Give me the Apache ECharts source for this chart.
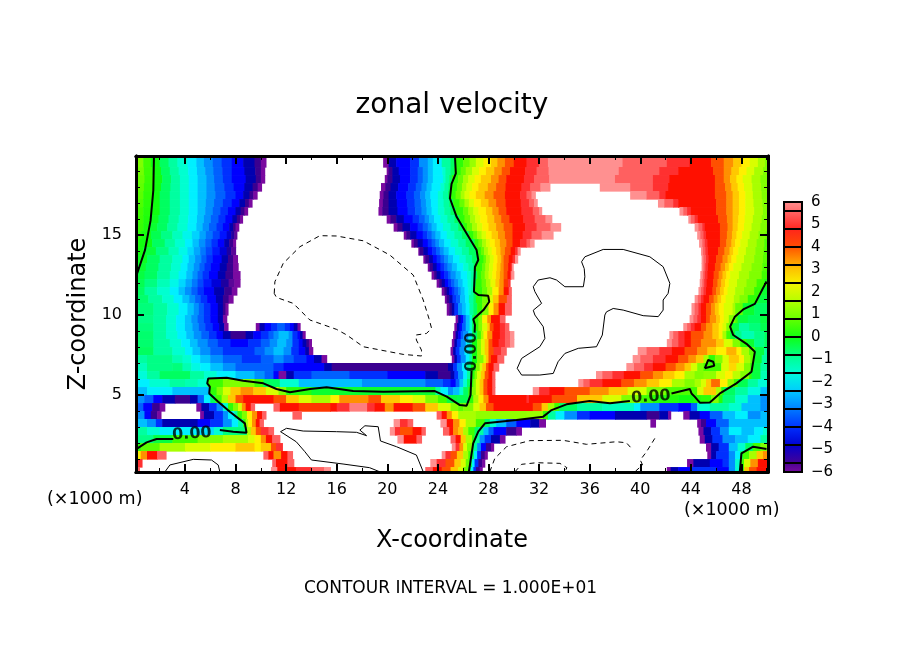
<!DOCTYPE html>
<html>
<head>
<meta charset="utf-8">
<script src="https://cdn.jsdelivr.net/npm/echarts@6/dist/echarts.min.js"></script>
<style>html,body{margin:0;padding:0;background:#fff}#chart{width:904px;height:654px}</style>
</head>
<body>
<div id="chart"></div>
<script>
var xTicks = [4, 8, 12, 16, 20, 24, 28, 32, 36, 40, 44, 48];
var xMinorTicks = [2, 6, 10, 14, 18, 22, 26, 30, 34, 38, 42, 46, 50];
var zTicks = [5, 10, 15];
var zMinorTicks = [1, 2, 3, 4, 6, 7, 8, 9, 11, 12, 13, 14, 16, 17, 18, 19];
var barTicks = [-6, -5, -4, -3, -2, -1, 0, 1, 2, 3, 4, 5, 6];
var barEdges = [-6, -5.6, -4.8, -4, -3.2, -2.4, -1.6, -0.8, 0, 0.8, 1.6, 2.4, 3.2, 4, 4.8, 5.6, 6];
var palette = ['#7a0aa0', '#3a0090', '#0000b0', '#0000ff', '#0030ff', '#0060ff', '#0090ff', '#00c0ff', '#00f0ff', '#00ffd0', '#00ffa0', '#00ff60', '#10ff10', '#40ff00', '#80ff00', '#a8ff00', '#d8ff00', '#fff000', '#ffc800', '#ff9000', '#ff5000', '#ff1000', '#ff3030', '#ff6060', '#ff9090'];

// z edges of the rows
var rowEdges = [19.94, 19.25, 18.75, 18.25, 17.75, 17.25, 16.75, 16.25, 15.75, 15.25, 14.75, 14.25, 13.75, 13.25, 12.75, 12.25, 11.75, 11.25, 10.75, 10, 9.5, 9, 8.5, 8, 7.5, 7, 6.5, 6, 5.5, 5, 4.5, 4, 3.5, 3, 2.5, 2, 1.5, 1, 0.5, 0.19];
// each row: x where a band starts, velocity of that band (null = off the scale, left white)
var rows = [
[0.1,1,.7,.5,1.3,0,2,-.5,2.7,-1,3.4,-1.5,4.2,-2,4.9,-2.5,5.5,-3,6.2,-3.5,6.9,-4,7.7,-4.5,8.6,-5,9.5,-5.5,10,-6,10.4,null,19.67,-6,20.1,-5,20.7,-4.5,21.8,-4,22.5,-3,23.2,-2.5,23.6,-2,24.3,-1,25,-.5,25.4,.3,26,.8,26.5,1.3,27,2,27.6,2.5,28.2,3,28.7,3.5,29.3,4,30,4.5,31,5,32,5.5,32.7,6,38.6,5.5,42.1,5,43.9,4.5,45.6,4,46.6,3.5,47.35,3,48,2.5,48.66,2,49.3,1.5,49.85,1],
[.1,.9,.75,.45,1.4,0,2.1,-.5,2.8,-1,3.5,-1.5,4.25,-2,4.95,-2.5,5.6,-3,6.25,-3.5,6.95,-4,7.7,-4.5,8.7,-5,9.55,-5.5,10,-6,10.3,null,19.95,-6,20.1,-5.5,20.4,-5,20.9,-4.5,21.8,-4,22.4,-3.5,22.8,-3,23.2,-2.5,23.6,-2,24.35,-1.5,24.6,-1,25,-.5,25.3,.3,25.8,.8,26.2,1.4,26.7,2,27.25,2.5,27.8,3,28.45,3.5,29.05,4,29.7,4.5,30.9,5,31.8,5.5,32.75,6,38.3,5.5,41.5,5,43,4.5,45.75,4,46.6,3.5,47.2,3,47.8,2.5,48.4,2,49,1.5,49.7,1],
[0.1,.8,.8,.4,1.5,0,2.2,-.5,2.9,-1,3.6,-1.5,4.3,-2,5,-2.5,5.7,-3,6.3,-3.5,7,-4,7.7,-4.5,8.8,-5,9.6,-5.5,10,-6,10.3,null,19.8,-6,20,-5.5,20.4,-5,21,-4.5,21.8,-4,22.4,-3.5,22.8,-3,23.2,-2.5,23.6,-2,24.4,-1.5,24.6,-1,24.9,-.5,25.1,.3,25.6,.8,26,1.5,26.4,2,26.9,2.5,27.4,3,28.2,3.5,28.8,4,29.4,4.5,30.8,5,31.6,5.5,32.8,6,38,5.5,41,5,42.3,4.5,45.9,4,46.6,3.5,47.1,3,47.6,2.5,48.1,2,48.8,1.5,49.5,1],
[.1,.75,.75,.35,1.45,0,2.1,-.5,2.85,-1,3.6,-1.5,4.3,-2,5,-2.5,5.7,-3,6.35,-3.5,7.1,-4,7.85,-4.5,8.7,-5,9.35,-5.5,9.75,-6,10.05,null,19.5,-6,19.85,-5.5,20.25,-5,20.85,-4.5,21.65,-4,22.25,-3.5,22.7,-3,23.1,-2.5,23.5,-2,24.2,-1.5,24.5,-1,24.85,-.5,25,.3,25.5,.8,25.9,1.5,26.25,2,26.7,2.5,27.2,3,27.95,3.5,28.6,4,29.35,4.5,30.6,5,31.3,5.5,32.1,6,32.85,null,36.8,6,39.2,5.5,41,5,42.2,4.5,45.9,4,46.7,3.5,47.2,3,47.7,2.5,48.2,2,48.85,1.5,49.55,1],
[0.1,.7,.7,.3,1.4,0,2,-.5,2.8,-1,3.6,-1.5,4.3,-2,5,-2.5,5.7,-3,6.4,-3.5,7.2,-4,8,-4.5,8.6,-5,9.1,-5.5,9.4,-6,9.7,null,19.4,-6,19.7,-5.5,20.1,-5,20.7,-4.5,21.5,-4,22.1,-3.5,22.6,-3,23,-2.5,23.4,-2,24,-1.5,24.4,-1,24.8,-.5,25,.3,25.4,.8,25.8,1.5,26.1,2,26.5,2.5,27,3,27.7,3.5,28.4,4,29.3,4.5,30.5,5,31,5.5,31.4,6,31.7,null,39.2,6,40.5,5.5,41.5,5,42,4.5,45.9,4,46.8,3.5,47.3,3,47.8,2.5,48.3,2,48.9,1.5,49.6,1],
[.1,.6,.7,.25,1.35,0,2,-.5,2.8,-1,3.6,-1.5,4.3,-2,5,-2.5,5.65,-3,6.3,-3.5,7,-4,7.7,-4.5,8.3,-5,8.75,-5.5,9.05,-6,9.3,null,19.35,-6,19.65,-5.5,20.1,-5,20.75,-4.5,21.55,-4,22.15,-3.5,22.65,-3,23.05,-2.5,23.45,-2,24,-1.5,24.45,-1,24.9,-.5,25.2,.3,25.7,.8,26.1,1.5,26.45,2,26.85,2.5,27.4,3,28,3.5,28.6,4,29.35,4.5,30.55,5,31.2,5.5,31.6,6,31.85,null,41.4,6,41.9,5.5,42.6,5,43,4.5,46,4,46.8,3.5,47.3,3,47.8,2.5,48.3,2,48.95,1.5,49.65,1],
[0.1,.5,.7,.2,1.3,0,2,-.5,2.8,-1,3.6,-1.5,4.3,-2,5,-2.5,5.6,-3,6.2,-3.5,6.8,-4,7.4,-4.5,8,-5,8.4,-5.5,8.7,-6,8.95,null,19.3,-6,19.6,-5.5,20.1,-5,20.8,-4.5,21.6,-4,22.2,-3.5,22.7,-3,23.1,-2.5,23.5,-2,24,-1.5,24.5,-1,25,-.5,25.4,.3,26,.8,26.4,1.5,26.8,2,27.2,2.5,27.8,3,28.3,3.5,28.8,4,29.4,4.5,30.6,5,31.5,5.5,32,6,32.2,null,43.1,6,43.4,5.5,43.7,5,44,4.5,46,4,46.8,3.5,47.3,3,47.8,2.5,48.3,2,49,1.5,49.7,1],
[.1,.45,.7,.15,1.25,-.1,1.9,-.5,2.7,-1,3.5,-1.5,4.25,-2,4.95,-2.5,5.5,-3,6.05,-3.5,6.65,-4,7.2,-4.5,7.75,-5,8.1,-5.5,8.35,-6,8.55,null,19.95,-6,20.25,-5.5,20.7,-5,21.3,-4.5,22,-4,22.5,-3.5,22.95,-3,23.3,-2.5,23.7,-2,24.2,-1.5,24.75,-1,25.3,-.5,25.7,.3,26.1,.8,26.55,1.5,26.95,2,27.35,2.5,27.9,3,28.45,3.5,29,4,29.65,4.5,30.75,5,31.65,5.5,32.5,6,33,null,43.8,6,44,5.5,44.3,5,44.55,4.5,46.15,4,46.85,3.5,47.3,3,47.75,2.5,48.25,2,48.9,1.5,49.6,1],
[0.1,.4,.7,.1,1.2,-.2,1.8,-.5,2.6,-1,3.4,-1.5,4.2,-2,4.9,-2.5,5.4,-3,5.9,-3.5,6.5,-4,7,-4.5,7.5,-5,7.8,-5.5,8,-6,8.25,null,20.5,-6,20.8,-5.5,21.2,-5,21.8,-4.5,22.4,-4,22.8,-3.5,23.2,-3,23.5,-2.5,23.9,-2,24.4,-1.5,25,-1,25.6,-.5,26,.3,26.3,.8,26.7,1.5,27.1,2,27.5,2.5,28,3,28.6,3.5,29.2,4,29.9,4.5,30.9,5,31.8,5.5,32.9,6,33.7,null,44.3,6,44.6,5.5,44.9,5,45.1,4.5,46.3,4,46.9,3.5,47.3,3,47.7,2.5,48.2,2,48.8,1.5,49.5,1],
[.1,.3,.55,.05,1.3,-.4,2.1,-.8,3,-1.3,3.8,-1.8,4.55,-2.3,5.15,-2.8,5.65,-3.3,6.2,-3.8,6.75,-4.3,7.3,-4.8,7.65,-5.3,7.9,-5.8,8.1,null,21.3,-6,21.5,-5.5,21.8,-5,22.3,-4.5,22.8,-4,23.15,-3.5,23.5,-3,23.8,-2.5,24.2,-2,24.7,-1.5,25.3,-1,25.9,-.5,26.45,.3,26.8,.8,27.1,1.5,27.45,2,27.8,2.5,28.25,3,28.75,3.5,29.3,4,29.9,4.5,30.7,5,31.4,5.5,32.2,6,33.1,null,44.5,6,44.75,5.5,45,5,45.2,4.5,46.3,4,46.85,3.5,47.25,3,47.6,2.5,48.05,2,48.65,1.5,49.35,1,49.9,.8],
[0.1,.2,.4,0,1.4,-.5,2.4,-1,3.2,-1.5,4,-2,4.6,-2.5,5.1,-3,5.6,-3.5,6.1,-4,6.6,-4.5,7.1,-5,7.5,-5.5,7.8,-6,8,null,21.9,-6,22.1,-5.5,22.4,-5,22.8,-4.5,23.2,-4,23.5,-3.5,23.8,-3,24.1,-2.5,24.5,-2,25,-1.5,25.6,-1,26.2,-.5,26.9,.3,27.2,.8,27.5,1.5,27.8,2,28.1,2.5,28.5,3,28.9,3.5,29.4,4,29.9,4.5,30.5,5,31,5.5,31.3,6,31.6,null,44.65,6,44.9,5.5,45.1,5,45.3,4.5,46.3,4,46.8,3.5,47.2,3,47.5,2.5,47.9,2,48.5,1.5,49.2,1,49.8,.6],
[.1,.05,.7,-.25,1.7,-.75,2.7,-1.25,3.5,-1.75,4.2,-2.25,4.7,-2.75,5.2,-3.25,5.65,-3.75,6.15,-4.25,6.75,-4.75,7.3,-5.25,7.65,-5.75,8,null,22.45,-6,22.55,-5.5,22.85,-5,23.2,-4.5,23.55,-4,23.85,-3.5,24.15,-3,24.45,-2.5,24.85,-2,25.35,-1.5,25.9,-1,26.45,-.5,27.05,.3,27.4,.8,27.65,1.5,27.95,2,28.25,2.5,28.6,3,28.95,3.5,29.3,4,29.75,4.5,30.1,5,30.3,6,30.5,null,44.8,6,44.95,5.5,45.15,5,45.35,4.5,46.15,4,46.65,3.5,47.05,3,47.35,2.5,47.75,2,48.35,1.5,49.1,1,49.75,.65],
[0.1,-.1,1,-.5,2,-1,3,-1.5,3.8,-2,4.3,-2.5,4.8,-3,5.3,-3.5,5.7,-4,6.2,-4.5,6.9,-5,7.4,-5.5,7.8,-6,8.15,null,22.85,-6,23,-5.5,23.3,-5,23.6,-4.5,23.9,-4,24.2,-3.5,24.5,-3,24.8,-2.5,25.2,-2,25.7,-1.5,26.2,-1,26.7,-.5,27.2,.3,27.6,.8,27.8,1.5,28.1,2,28.4,2.5,28.7,3,29,3.5,29.2,4,29.6,4.5,29.9,5,30.1,6,30.3,null,44.85,6,45,5.5,45.2,5,45.4,4.5,46,4,46.5,3.5,46.9,3,47.2,2.5,47.6,2,48.2,1.5,49,1,49.7,.7],
[.1,-.2,.9,-.5,1.9,-1,2.9,-1.5,3.65,-2,4.2,-2.5,4.7,-3,5.15,-3.5,5.55,-4,6.05,-4.5,6.75,-5,7.3,-5.5,7.8,-6,8.2,null,23.2,-6,23.35,-5.5,23.6,-5,23.9,-4.5,24.2,-4,24.5,-3.5,24.75,-3,25.1,-2.5,25.5,-2,26,-1.5,26.4,-1,26.8,-.5,26.95,.3,27.5,.8,27.75,1.5,28.05,2,28.35,2.5,28.65,3,28.95,3.5,29.2,4,29.55,4.5,29.75,5,29.85,6,29.95,null,44.85,6,45,5.5,45.15,5,45.35,4.5,45.9,4,46.35,3.5,46.7,3,47,2.5,47.35,2,48,1.5,48.8,1,49.65,.6],
[0.1,-.3,.8,-.5,1.8,-1,2.8,-1.5,3.5,-2,4.1,-2.5,4.6,-3,5,-3.5,5.4,-4,5.9,-4.5,6.6,-5,7.2,-5.5,7.8,-6,8.35,null,23.5,-6,23.7,-5.5,23.9,-5,24.2,-4.5,24.5,-4,24.8,-3.5,25,-3,25.4,-2.5,25.8,-2,26.3,-1.5,26.6,-1,26.9,-.5,27.1,.3,27.4,.8,27.7,1.5,28,2,28.3,2.5,28.6,3,28.9,3.5,29.2,4,29.5,4.5,29.7,5,29.8,6,30,null,44.75,6,44.95,5.5,45.1,5,45.3,4.5,45.8,4,46.2,3.5,46.5,3,46.8,2.5,47.1,2,47.8,1.5,48.6,1,49.6,.5],
[.1,-.4,.8,-.75,1.8,-1.25,2.8,-1.75,3.5,-2.25,4.05,-2.75,4.55,-3.25,5,-3.75,5.45,-4.25,6.1,-4.75,6.85,-5.25,7.45,-5.75,7.9,-6,8.35,null,23.9,-6,24.1,-5.5,24.3,-5,24.55,-4.5,24.8,-4,25.05,-3.5,25.3,-3,25.6,-2.5,25.95,-2,26.35,-1.5,26.6,-1,26.85,-.5,27,.3,27.45,.8,27.8,1.5,28.15,2.2,28.55,3,28.85,3.5,29.2,4.2,29.55,5,29.7,null,44.7,6,44.9,5.5,45.05,5,45.25,4.5,45.75,4,46.1,3.5,46.4,3,46.7,2.5,47,2,47.65,1.5,48.4,1,49.2,.5,49.8,.1],
[0.1,-.5,.8,-1,1.8,-1.5,2.8,-2,3.5,-2.5,4,-3,4.5,-3.5,5,-4,5.5,-4.5,6.3,-5,7.1,-5.5,7.7,-6,8.1,null,24.3,-6,24.5,-5.5,24.7,-5,24.9,-4.5,25.1,-4,25.3,-3.5,25.6,-3,25.8,-2.5,26.1,-2,26.4,-1.5,26.6,-1,26.8,-.5,26.9,.3,27.5,.8,27.9,1.5,28.3,2.5,28.8,3.5,29.2,4.5,29.6,5.5,29.8,null,44.6,6,44.8,5.5,45,5,45.2,4.5,45.7,4,46,3.5,46.3,3,46.6,2.5,46.9,2,47.5,1.5,48.2,1,49,.4,49.6,-.2],
[.1,-.6,1.1,-1,2.2,-1.5,3.1,-2,3.8,-2.5,4.35,-3,4.8,-3.5,5.25,-4,5.75,-4.5,6.45,-5,7,-5.5,7.45,-6,7.8,null,24.55,-6,24.7,-5.5,24.9,-5,25.15,-4,25.45,-3.5,25.75,-2.5,26.15,-2,26.45,-1,26.8,-.5,27,.3,27.5,.9,27.95,2,28.35,3,28.8,4,29.45,5.5,29.8,null,44.3,6,44.55,5.5,44.8,5,45,4.5,45.45,4,45.8,3.5,46.1,3,46.4,2.5,46.75,2,47.4,1.5,47.85,1,48.5,.3,49.3,-.3],
[0.1,-.7,1.5,-1,2.6,-1.5,3.5,-2,4.2,-2.5,4.7,-3,5.1,-3.5,5.5,-4,6,-4.5,6.6,-5,7,-5.5,7.2,-6,7.4,null,24.7,-6,24.9,-5.5,25.1,-5,25.3,-4,25.6,-3,25.9,-2.5,26.2,-2,26.5,-1,26.8,-.5,27.1,.3,27.5,1,28,2.5,28.4,3.5,28.8,4.5,29.3,5.5,29.8,null,44.05,6,44.3,5.5,44.6,5,44.8,4.5,45.2,4,45.6,3.5,45.9,3,46.2,2.5,46.6,2,47.3,1.5,47.5,.8,48.1,-.2,49,-.5],
[0.1,-.8,1.5,-1,2.5,-1.5,3.3,-2,4,-2.5,4.5,-3,5,-3.5,5.5,-4,6,-4.5,6.6,-5,7,-6,7.3,null,25.4,-6,25.6,-5,25.8,-4.5,26,-3.5,26.2,-2.5,26.5,-1.5,26.7,-.5,26.85,.3,27.2,1,27.5,2.5,27.9,3.5,28.2,4.5,28.9,5.5,29.3,null,43.9,6,44.2,5.5,44.5,5,44.8,4.5,45.2,4,45.5,3.5,46,3,46.3,2.5,46.6,2,47,1,47.5,.5,47.7,-.3,48.5,-.5,49.5,-.3],
[0.1,-.7,1.5,-1,2.5,-1.5,3.3,-2,4,-2.5,4.6,-3,5.1,-3.5,5.6,-4,6.2,-4.5,6.7,-5,7.1,-6,7.4,null,9.6,-6,9.9,-5,10.3,-4.5,10.8,-4,11.3,-3.5,11.9,-4,12.3,-4.5,12.6,-5,12.9,-6,13.1,null,25.3,-6,25.5,-5,25.7,-4.5,25.9,-3.5,26.2,-2.5,26.5,-1.5,26.7,-.5,26.9,.3,27.2,1,27.5,2,27.9,3,28.1,4,28.4,4.5,28.9,5,29.3,5.5,29.6,null,43.4,6,43.7,5.5,44,5,44.3,4.5,44.8,4,45.2,3.5,45.7,3,46.2,2.5,46.5,2,46.8,1,47.1,.3,47.3,-.3,47.8,-1,48.6,-.7,49.5,-.4],
[0.1,-.6,1.5,-1,2.5,-1.5,3.4,-2,4.1,-2.5,4.7,-3,5.3,-3.5,5.9,-4,6.5,-4.5,7,-5,7.6,-5.5,8.8,-5,9.4,-4.5,10,-4,10.6,-3.5,11,-3,11.4,-2.5,12.2,-3,12.5,-4,12.9,-4.5,13.1,-5,13.3,-6,13.5,null,25.2,-6,25.4,-5,25.6,-4.5,25.8,-3.5,26,-3,26.4,-2,26.7,-.5,27.1,.5,27.4,1.5,27.6,2.5,27.9,3.5,28.3,4.5,28.9,5,29.3,5.5,29.7,6,30,null,42.3,6,42.6,5.5,43,5,43.5,4.5,44,4,45,3.5,45.7,3,46.2,2.5,46.5,1.5,46.8,.5,47.1,-.2,47.5,-.8,48,-1.2,49,-.8,49.8,-.5],
[0.1,-.6,1.5,-1,2.8,-1.5,3.7,-2,4.4,-2.5,5,-3,5.8,-3.5,6.6,-4,7.6,-4.5,9,-4,10,-3.5,10.7,-3,11.3,-2.5,12,-3,12.5,-4,13,-4.5,13.3,-5,13.6,-5.5,13.8,-6,14,null,25.1,-6,25.3,-5,25.5,-4,25.8,-3,26.2,-2,26.5,-1,26.7,0,27.1,1,27.4,2,27.7,3,28,4,28.3,4.5,28.8,5,29.3,5.5,29.7,6,30,null,42.1,6,42.5,5.5,43,5,43.5,4.5,44,4,44.8,3.5,46,3,46.6,2,47.3,1,47.9,.3,48.4,-.2,49,-.8,49.8,-.5],
[0.1,-.5,1.5,-1,3,-1.5,4,-2,4.6,-2.5,5.2,-3,6,-3.5,7,-4,9.5,-3.5,10.3,-3,11,-2.5,11.8,-3,12.4,-4,13,-4.5,13.5,-5,13.8,-6,14.1,null,25,-6,25.2,-5,25.4,-4,25.7,-3,26.1,-2,26.5,-1,26.7,0,27.1,1,27.4,2,27.7,3,28,4,28.4,5,29,5.5,29.4,null,39.8,6,40.5,5.5,41.5,5,42.5,4.5,43.5,4,44.5,3.5,45.3,3,46,2.5,46.8,3.2,47.6,2.5,48,1.5,48.6,.7,49.06,-.3,49.8,-1],
[0.1,-1,1,-.8,3,-1.2,3.8,-1.5,4.5,-2,5.2,-2.5,6,-3,7,-3.5,8.5,-4,10,-3.5,11,-3,11.8,-3.5,12.6,-4,13.6,-4.5,14.2,-5,14.8,-6,15.2,null,25.1,-6,25.3,-5,25.5,-4,25.8,-3,26.2,-2,26.5,-1,26.7,0,27.1,1,27.6,2,27.8,3,28,4,28.2,4.5,28.7,5.5,29.2,null,39.4,6,40,5.5,41,5,42,4.5,43,4,43.8,3.5,44.4,3,45,1.5,45.4,.3,45.9,1,46.5,2,47,3,47.8,2.5,48.2,1.5,48.7,.7,49,-.2,49.6,-1],
[0.1,-1.3,1,-.8,3,-.7,3.8,-1.2,4.5,-1.7,5.2,-2,6,-2.5,7,-3,8,-3.5,10,-3.5,11,-4,11.8,-4.5,15,-5,15.6,-5.5,24.8,-5,25.2,-4,25.5,-3,25.9,-2,26.3,-1,26.6,0,27,1,27.3,2,27.5,3,27.8,4,28,4.5,28.4,5.5,28.8,null,38.9,6,39.5,5.5,40.3,5,41,4.5,42,4,42.8,3.5,43.5,3,44,2,44.5,1,45,.5,45.9,.5,46.4,2,47,2.8,47.6,2,48.2,1,48.7,.3,48.95,-.3,49.5,-1],
[0.1,-1.6,1,-1,2,-.5,4.4,-1,5.5,-1.5,6.5,-2,8,-2.5,9.5,-3,10.3,-3.5,11,-4.5,11.4,-6,12,-5,12.6,-4,14,-3.5,17,-4,20,-4.5,23,-5,24,-5.5,25,-5,25.3,-4,25.6,-3,26,-2,26.3,-1,26.6,.2,26.9,1,27.1,2,27.4,3,27.7,4,28,4.5,28.3,5.5,28.5,null,36.5,6,37,5.5,37.8,5,38.7,4.5,40,4,41,3.5,41.8,3,42.7,2.5,43.5,1.5,44.3,1,45,1.2,46,2,46.7,2.5,47.3,1.7,47.9,1,48.6,.3,48.8,-.3,49.5,-1.2],
[0.1,-2,1.2,-1.5,2.8,-1,4,-1.2,5,-1.5,5.8,.5,7,1,9.5,.5,10.2,-.5,11.5,-1.5,13,-2.5,18,-3,23,-3.5,24.4,-4,25,-4.5,25.4,-3.5,25.7,-2.5,26,-1.5,26.3,-.5,26.6,.3,26.8,1,27,2,27.3,3,27.6,4,27.9,4.5,28.3,5.5,28.5,null,35.1,6,35.5,5.5,36,5,37,4.5,38.5,4,39.5,3.5,40.5,3,41.5,2.5,42.5,1.5,43.5,1,44.3,1.5,44.8,2,45.2,3,45.6,3.8,46.3,2.5,46.9,1.2,47.4,.5,47.7,-.4,48.5,-1,49.3,-1.6],
[0.1,-2.5,1,-2,3,-2.5,5.9,.3,6.5,1,7,2,7.6,3,8.4,3.5,9.4,3,10.4,2,11.4,1,12,.2,14,-.2,23.8,-1,24.2,-2,24.8,-3,25.2,-2.5,25.7,-1.5,26,-.5,26.4,.3,26.7,1,27,2,27.3,3,27.6,4,27.9,4.5,28.3,5.5,28.5,null,31.5,6,32,5,32.8,4.5,34,4,36,3.5,37.5,3,39,2,40.5,1,42,.6,44,.5,44.5,2,45,3,45.6,3,46,1.5,46.4,.3,46.6,-.5,47.5,-1,48.5,-1.7,49.5,-2.5],
[0.1,-3,.8,-3.5,1.5,-4.5,2.2,-5,3.2,-5.5,4.4,-5,5,-3.5,5.5,-2,6,-.5,6.4,.5,6.9,1.5,7.4,3,8,4,8.6,4.5,11,4,12,3,13,2,14,1.5,15.5,2.5,16.2,3.5,18.5,4,19.5,3,21,2.5,22,2,23,1,24,.5,24.7,-.3,25.5,-.4,26.4,.3,26.8,1.5,27.2,2.5,27.6,3.5,28,4.5,31,5,31.2,4.5,33,4,35,3,37,2,38.5,1,40,.5,41,.2,43,0,44.2,.2,44.8,.3,45.6,1,46.2,.2,46.5,-.7,47.5,-1.5,48.5,-2.5,49.5,-3],
[0.1,-3.5,.7,-4.5,1.4,-5.5,2,-6,2.4,null,4.9,-6,5.3,-5,5.9,-4,6.5,-3,7,-1.5,7.4,.3,7.8,1,8.2,2,8.5,3.5,8.8,4.5,9.2,5.5,9.5,null,11,5.5,11.5,4.5,13,4.2,15.5,4.5,16,5,17,5.8,18.4,5,19,4.5,19.8,3.5,20.5,4.5,22,4,23,3,24,2,25,1,25.6,.7,26,1,26.8,2,27.3,3,27.8,4,28.4,4.5,31.5,4,32.2,3,32.7,1.5,33.2,.5,33.6,-.5,35,-1,37,-1.3,39.5,-2,40,-3,41.5,-4,43,-4.5,44,-3.5,44.5,-1.5,45.5,-1,47,-1.5,48,-2.5,49.5,-3],
[0.1,-3,.8,-4.5,1.3,-5.5,1.8,-6,2.1,null,5.2,-6,5.5,-5,6.3,-4,7,-3,7.4,-2,7.9,-1,8.15,.3,8.5,1,8.9,2.5,9.3,3.5,9.7,4.5,10.1,5.5,10.4,null,12.5,5.5,13.2,null,23.9,5.5,24.3,4.5,24.7,3.5,25.1,2.5,25.6,1.5,27,1.2,31,1.3,32.3,.3,32.7,-1,33.3,-2,34,-3,35,-4,36,-4.5,38,-5,40.5,-5.5,41.5,-5,42.2,-6,42.4,null,43.4,-6,43.9,-5,44.7,-4.5,45.5,-3.5,46.5,-2.5,47.5,-2,48.5,-3,49.5,-2.5],
[0.1,-2.5,1,-3,1.7,-4,2.2,-5,5,-4.5,6,-4,7,-3,7.7,-2,8.2,-1,8.6,.3,8.8,1.5,9,2.5,9.3,3.5,9.6,4.5,9.9,5.5,10.2,null,20.5,6,21,5,21.6,5.5,22,null,24.2,6,24.7,4.5,25.2,3.5,25.7,2.5,26.2,1.5,27,.5,27.7,-.5,28.1,-1.5,28.6,-2.5,29.4,-3.5,30.2,-4.5,31.3,-5,32,-6,32.5,null,40.8,-6,41.2,null,44.5,-6,44.8,-5.5,45.2,-4.5,46,-3.5,47,-2.5],
[0.1,-1,1,-1.5,2,-2,5,-2.2,6.3,-1.5,7,-.7,8.9,1.5,9.2,3,9.6,4,10,5,10.6,5.5,11,null,20.2,6,20.6,5,21,4,22,4.5,22.7,5.5,23,null,24.4,5.5,24.9,4.5,25.2,3.5,25.6,3,26,1.5,26.4,.5,26.9,-.5,27.2,-1,27.6,-2.5,28,-3.5,28.4,-4.5,29.4,-5.5,30.2,-6,30.6,null,44.6,-6,45,-5,45.6,-4,46.3,-3,47,-2,48,-2.5,49,-2,49.7,-1.5],
[0.1,-.8,1.5,-.3,3,.5,5,1,7,1.5,9,2,9.5,2.5,10,3.5,10.4,4.5,10.9,5.5,11.5,null,20.8,6,21.3,4.5,22.3,5.5,22.7,null,25,5.5,25.4,4.5,25.8,3,26.2,1.5,26.7,.3,26.9,-1,27.3,-3,27.7,-4,28.2,-5,28.9,-6,29.3,null,44.7,-6,45.1,-5,45.7,-4,46.5,-3,47.5,-2.5,48.5,-2,49.5,-1],
[0.1,.2,.5,.7,2,1.5,4,2,6,2.5,8,3,9.5,2.5,10,3,10.8,4,11.2,5,11.7,null,25.1,6,25.4,5,25.7,3.5,26,2,26.3,1,26.7,.2,26.8,-1,27.1,-3,27.4,-4.5,27.8,-5.5,28.2,-6,28.4,null,45.2,-6,45.6,-5,46.2,-4,47,-2.5,47.7,-1.5,48.3,-.5,48.9,.5,49.5,1],
[0.1,2.5,.5,3.5,1,4.5,1.8,5.5,2.5,null,10.2,5.5,10.6,4.5,11,3.5,11.6,4.5,12.1,5.5,12.5,null,24.3,6,24.6,5,25,4,25.5,3,26,1.5,26.4,.5,26.65,-.5,26.85,-2,27.1,-4,27.4,-5.5,27.7,-6,27.9,null,45.3,-6,45.6,-5,46,-4,47,-3,47.5,-2,47.9,-.5,48.1,.5,48.6,1.5,49.2,3,49.7,3.5],
[0.1,5,.6,null,10.9,5.5,11.2,4.5,12.1,5.5,12.6,null,23.4,6,23.9,5,24.6,4,25.3,3,25.8,2,26.2,.8,26.5,-.5,26.7,-2,26.9,-4,27.2,-5.5,27.5,-6,27.7,null,43.7,-6,44.2,-5,45.5,-4.5,46.5,-4,47,-3,47.5,-1.5,47.9,.5,48.2,2,48.7,3.5,49.3,4.5],
[0.1,5.5,.4,null,10.8,6,11.3,4.5,12.8,5,14,5.5,15,6,15.5,null,23,5.5,23.6,4.5,24.3,4,25,3,25.6,2,26,.8,26.4,-.5,26.6,-2,26.8,-4,27,-5.5,27.3,-6,27.5,null,42.1,-6,42.4,-5,43,-4.5,44,-4,46,-4.5,47,-3,47.5,-1.5,47.9,.5,48.2,3,48.6,4,49.2,4.5]
];

// zero contour, broken where the labels sit
var zeroA = [[1.55,19.9],[1.5,17.8],[1.28,15.9],[.84,14.06],[.18,12.5]];
var zeroB = [[25.35,19.9],[25.42,18.85],[25.08,18.2],[24.95,17.3],[25.48,16.14],[26.27,15.1],[27.06,14.06],[27.19,13.44],[26.93,13],[26.85,11.46],[27.2,11.25],[27.98,11.2],[28.06,10.83],[27.6,10.31],[26.8,9.73],[26.93,9.38],[26.9,8.9]];
var zeroC = [[26.66,6.5],[26.58,5],[26.27,4.33],[25.74,4.37],[24.7,4.9],[23.76,5.25],[19.7,5.2],[17.3,5.25],[15.2,5.48],[13.9,5.38],[12.3,5.17],[11.24,5.38],[10.2,5.73],[8.6,5.9],[7.3,6.08],[5.84,6.04],[5.76,5.73],[5.97,5.52],[5.92,5.1],[6.63,4.58],[7.55,3.96],[8.74,3.23],[8.87,2.65],[7.82,2.71],[6.76,2.81]];
var zeroD = [[3.08,2.25],[1.76,2.25],[.97,2.04],[.18,1.63]];
var zeroE = [[26.45,.21],[26.79,1.98],[27.19,2.71],[27.72,3.23],[30.22,3.44],[32.33,3.65],[32.99,4.06],[34.17,4.42],[36,4.63],[37.6,4.48],[39.18,4.63]];
var zeroF = [[42.47,5.1],[43.92,5.38],[44.05,5.1],[44.3,4.9],[44.71,4.52],[45.5,4.54],[46.3,5.1],[47.6,5.73],[48.8,6.46],[49.06,7.7],[48.4,8.2],[47.35,8.75],[47.1,9.27],[47.48,9.9],[48.14,10.35],[49.06,10.7],[49.98,12.1]];
var zeroG = [[45.1,6.67],[45.37,7.19],[45.77,7.08],[45.85,6.83],[45.1,6.67]];
var zeroH = [[47.87,.2],[48,1.35],[48.93,1.77],[49.98,1.63]];
// +10 contours
var plusA = [[31.54,11.77],[31.93,12.19],[32.86,12.33],[33.38,12.19],[34.04,11.77],[35.5,11.77],[35.62,12.39],[35.57,12.9],[35.36,13.33],[35.62,13.64],[37.07,14.1],[38.65,14.1],[40.76,13.64],[41.81,13.02],[42.34,11.98],[42.2,11.35],[41.81,10.94],[41.81,10.31],[41.42,9.9],[40.23,9.96],[38.65,10.31],[37.86,10.41],[37.33,10.2],[37.2,10],[37,8.75],[36.54,8.02],[35.1,7.92],[34.04,7.6],[33.5,7.08],[33.12,6.35],[32.06,6.25],[30.62,6.25],[30.27,6.67],[30.62,7.29],[32.06,8.02],[32.46,8.54],[32.33,9.27],[31.67,10],[31.54,10.3],[32.2,10.73],[31.67,11.46],[31.54,11.77]];
var plusB = [[22.84,.2],[22.3,1.25],[20.73,1.77],[19.46,2.13],[19.28,3.02],[18.23,3.08],[17.83,2.81],[18.36,2.46],[17.57,2.67],[15.99,2.71],[13.35,2.75],[12.03,2.92],[11.56,2.71],[12.8,2.08],[13.48,1.46],[14,.94],[16.5,.69],[18.6,.46],[19.41,.2]];
var plusC = [[2.42,.2],[2.81,.63],[4.66,.98],[6.1,.94],[6.63,.63],[6.76,.2]];
// -10 contours
var minusA = [[11.06,11.35],[11.11,12.08],[11.77,13.23],[13.09,14.27],[14.67,14.96],[15.99,14.94],[18.1,14.64],[20.2,13.75],[22.05,12.5],[22.84,10.94],[23.29,9.79],[23.5,9.17],[23.1,8.85],[22.26,8.75],[22.3,8.44],[22.7,7.81],[22.7,7.44],[21.26,7.54],[18.1,8.02],[16.8,8.75],[16,9.1],[13.88,9.69],[12.56,10.73],[11.24,11.1],[11.06,11.35]];
var minusB = [[28.1,.2],[28.5,1.04],[29.43,1.77],[31.27,2.15],[33.9,2.17],[35.75,1.92],[38.1,2.08],[38.9,2.02],[39.3,1.67]];
var minusC = [[41.15,2.29],[40.5,1.46],[40,.94],[40.18,.63],[39.57,.2]];
var minusD = [[30.09,.2],[30.62,.67],[31.8,.77],[33.65,.73],[34.2,.46],[34.04,.2]];
// where the 0.00 labels sit: x, z, rotation
var zeroLabels = [[4.55,2.56,4],[40.84,4.87,4],[26.68,7.69,90]];

var XMIN = 0.13, XMAX = 50.1, ZMIN = 0.19, ZMAX = 19.94;
var FONT = 'DejaVu Sans';

function colorOf(v) {
    return echarts.color.lerp((v + 6) / 12, palette);
}

var cells = [];
rows.forEach(function (row, i) {
    for (var k = 0; k < row.length; k += 2) {
        if (row[k + 1] === null) continue;
        var end = k + 2 < row.length ? row[k + 2] : XMAX;
        cells.push([row[k], end, rowEdges[i], rowEdges[i + 1], row[k + 1]]);
    }
});

var barCells = [];
for (var b = 0; b < barEdges.length - 1; b++) {
    barCells.push([0, 1, barEdges[b], barEdges[b + 1]]);
}

function contour(pts, width, dashed) {
    return {
        type: 'line', data: pts, showSymbol: false, symbol: 'none', silent: true, z: 5, clip: true,
        lineStyle: { color: '#000', width: width, type: dashed ? [5, 4] : 'solid' },
        xAxisIndex: 0, yAxisIndex: 0
    };
}

function xAxisOf(pos, values, len, labels) {
    return {
        type: 'value', gridIndex: 0, min: XMIN, max: XMAX, position: pos, z: 10,
        splitLine: { show: false },
        axisLine: { show: true, onZero: false, lineStyle: { color: '#000', width: 3 } },
        axisTick: { show: true, inside: true, length: len, customValues: values, lineStyle: { color: '#000', width: len > 5 ? 2 : 1 } },
        axisLabel: labels ? { show: true, customValues: xTicks, color: '#000', fontFamily: FONT, fontSize: 16, margin: 10 } : { show: false }
    };
}

function zAxisOf(pos, values, len, labels) {
    return {
        type: 'value', gridIndex: 0, min: ZMIN, max: ZMAX, position: pos, z: 10,
        splitLine: { show: false },
        axisLine: { show: true, onZero: false, lineStyle: { color: '#000', width: 3 } },
        axisTick: { show: true, inside: true, length: len, customValues: values, lineStyle: { color: '#000', width: len > 5 ? 2 : 1 } },
        axisLabel: labels ? { show: true, customValues: zTicks, color: '#000', fontFamily: FONT, fontSize: 16, margin: 14 } : { show: false }
    };
}

var chart = echarts.init(document.getElementById('chart'));

var xMain = xAxisOf('bottom', xTicks, 8, true);
xMain.name = 'X-coordinate';
xMain.nameLocation = 'middle';
xMain.nameGap = 57;
xMain.nameTextStyle = { color: '#000', fontFamily: FONT, fontSize: 24 };
var zMain = zAxisOf('left', zTicks, 8, true);
zMain.name = 'Z-coordinate';
zMain.nameLocation = 'middle';
zMain.nameGap = 36;
zMain.nameTextStyle = { color: '#000', fontFamily: FONT, fontSize: 24 };

var series = [
    {
        type: 'custom', data: cells, xAxisIndex: 0, yAxisIndex: 0, silent: true, clip: true, z: 2,
        encode: { x: [0, 1], y: [2, 3] },
        renderItem: function (params, api) {
            var a = api.coord([api.value(0), api.value(2)]);
            var c = api.coord([api.value(1), api.value(3)]);
            return {
                type: 'rect',
                shape: { x: a[0], y: a[1], width: c[0] - a[0] + 0.6, height: c[1] - a[1] + 0.6 },
                style: { fill: colorOf(api.value(4)) }
            };
        }
    },
    {
        // colour key
        type: 'custom', data: barCells, xAxisIndex: 4, yAxisIndex: 4, silent: true, z: 2,
        encode: { x: [0, 1], y: [2, 3] },
        renderItem: function (params, api) {
            var a = api.coord([0, api.value(3)]);
            var c = api.coord([1, api.value(2)]);
            return {
                type: 'rect',
                shape: { x: a[0], y: a[1], width: c[0] - a[0], height: c[1] - a[1] },
                style: {
                    fill: new echarts.graphic.LinearGradient(0, 1, 0, 0, [
                        { offset: 0, color: colorOf(api.value(2)) },
                        { offset: 1, color: colorOf(api.value(3)) }
                    ]),
                    stroke: '#000', lineWidth: 2
                }
            };
        }
    },
    contour(zeroA, 2), contour(zeroB, 2), contour(zeroC, 2), contour(zeroD, 2),
    contour(zeroE, 2), contour(zeroF, 2), contour(zeroG, 2), contour(zeroH, 2),
    contour(plusA, 1), contour(plusB, 1), contour(plusC, 1),
    contour(minusA, 1, true), contour(minusB, 1, true), contour(minusC, 1, true), contour(minusD, 1, true)
];

zeroLabels.forEach(function (p) {
    series.push({
        type: 'scatter', data: [[p[0], p[1]]], symbolSize: 1, itemStyle: { color: 'rgba(0,0,0,0)' }, silent: true, z: 6,
        xAxisIndex: 0, yAxisIndex: 0,
        label: {
            show: true, position: 'inside', formatter: '0.00', rotate: p[2],
            color: '#000', fontFamily: FONT, fontSize: 16, fontWeight: 'bold'
        }
    });
});

chart.setOption({
    animation: false,
    backgroundColor: '#fff',
    title: {
        text: 'zonal velocity', left: 'center', top: 87,
        textStyle: { color: '#000', fontFamily: FONT, fontSize: 28, fontWeight: 'normal' }
    },
    grid: [
        { left: 136, top: 156, width: 632, height: 316 },
        { left: 784, top: 202, width: 18, height: 270 }
    ],
    xAxis: [
        xMain,
        xAxisOf('bottom', xMinorTicks, 4, false),
        xAxisOf('top', xTicks, 8, false),
        xAxisOf('top', xMinorTicks, 4, false),
        { type: 'value', gridIndex: 1, min: 0, max: 1, show: false }
    ],
    yAxis: [
        zMain,
        zAxisOf('left', zMinorTicks, 4, false),
        zAxisOf('right', zTicks, 8, false),
        zAxisOf('right', zMinorTicks, 4, false),
        {
            type: 'value', gridIndex: 1, min: -6, max: 6, interval: 1, position: 'right',
            splitLine: { show: false }, axisLine: { show: false }, axisTick: { show: false },
            axisLabel: {
                color: '#000', fontFamily: FONT, fontSize: 15, margin: 9,
                customValues: barTicks,
                formatter: function (v) { return String(v).replace('-', '\u2212'); }
            }
        }
    ],
    series: series,
    graphic: [
        { type: 'text', left: 47, top: 490, style: { text: '(\u00d71000 m)', fill: '#000', font: '17.5px "DejaVu Sans"' } },
        { type: 'text', left: 684, top: 501, style: { text: '(\u00d71000 m)', fill: '#000', font: '17.5px "DejaVu Sans"' } },
        { type: 'text', left: 304, top: 580, style: { text: 'CONTOUR INTERVAL = 1.000E+01', fill: '#000', font: '17px "DejaVu Sans"' } }
    ]
});
</script>
</body>
</html>
